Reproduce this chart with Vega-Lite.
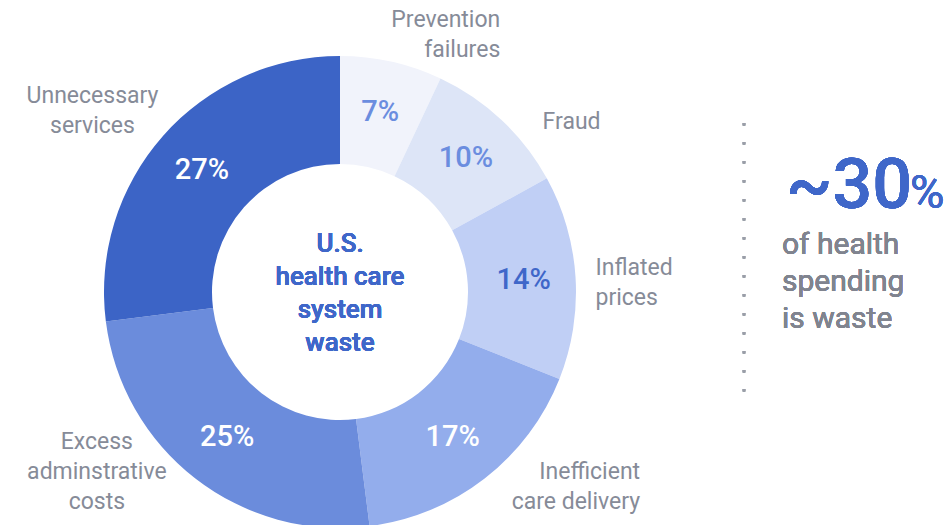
{
  "$schema": "https://vega.github.io/schema/vega-lite/v6.json",
  "width": 680,
  "height": 466,
  "autosize": "none",
  "padding": {"left": 0, "top": 59, "right": 272, "bottom": 0},
  "background": "white",
  "config": {"view": {"stroke": null}, "font": "Roboto"},
  "data": {
    "values": [
      {"category": "Prevention failures", "label": "Prevention\nfailures", "value": 7, "pct": "7%"},
      {"category": "Fraud", "label": "Fraud", "value": 10, "pct": "10%"},
      {"category": "Inflated prices", "label": "Inflated\nprices", "value": 14, "pct": "14%"},
      {"category": "Inefficient care delivery", "label": "Inefficient\ncare delivery", "value": 17, "pct": "17%"},
      {"category": "Excess adminstrative costs", "label": "Excess\nadminstrative\ncosts", "value": 25, "pct": "25%"},
      {"category": "Unnecessary services", "label": "Unnecessary\nservices", "value": 27, "pct": "27%"}
    ]
  },
  "layer": [
    {
      "mark": {"type": "arc", "innerRadius": 128, "outerRadius": 236},
      "encoding": {
        "theta": {"field": "value", "type": "quantitative", "stack": true},
        "order": {"field": "value", "sort": "ascending"},
        "color": {
          "field": "category",
          "type": "nominal",
          "legend": null,
          "scale": {
            "domain": ["Prevention failures", "Fraud", "Inflated prices", "Inefficient care delivery", "Excess adminstrative costs", "Unnecessary services"],
            "range": ["#f1f3fb", "#dde5f7", "#c0cff5", "#93adec", "#6b8cdc", "#3c64c6"]
          }
        }
      }
    },
    {
      "mark": {"type": "text", "radius": 184, "fontSize": 29, "fontWeight": 500, "align": "center", "baseline": "middle"},
      "encoding": {
        "theta": {"field": "value", "type": "quantitative", "stack": true},
        "order": {"field": "value", "sort": "ascending"},
        "text": {"field": "pct"},
        "fill": {
          "condition": [
            {"test": "datum.value >= 17", "value": "#ffffff"},
            {"test": "datum.value == 14", "value": "#3f67c9"}
          ],
          "value": "#6b8ddf"
        }
      }
    },
    {
      "mark": {"type": "text", "radius": 258, "dx": 104, "dy": -20, "fontSize": 23, "align": "right", "baseline": "middle", "lineBreak": "\n", "lineHeight": 30, "fill": "#868b98"},
      "encoding": {
        "theta": {"field": "value", "type": "quantitative", "stack": true},
        "order": {"field": "value", "sort": "ascending"},
        "text": {"condition": {"test": "datum.category == 'Prevention failures'", "field": "label"}, "value": ""}
      }
    },
    {
      "mark": {"type": "text", "radius": 258, "dx": 26, "dy": 18, "fontSize": 23, "align": "left", "baseline": "middle", "lineBreak": "\n", "lineHeight": 30, "fill": "#868b98"},
      "encoding": {
        "theta": {"field": "value", "type": "quantitative", "stack": true},
        "order": {"field": "value", "sort": "ascending"},
        "text": {"condition": {"test": "datum.category == 'Fraud'", "field": "label"}, "value": ""}
      }
    },
    {
      "mark": {"type": "text", "radius": 258, "dx": -2, "dy": -8, "fontSize": 23, "align": "left", "baseline": "middle", "lineBreak": "\n", "lineHeight": 30, "fill": "#868b98"},
      "encoding": {
        "theta": {"field": "value", "type": "quantitative", "stack": true},
        "order": {"field": "value", "sort": "ascending"},
        "text": {"condition": {"test": "datum.category == 'Inflated prices'", "field": "label"}, "value": ""}
      }
    },
    {
      "mark": {"type": "text", "radius": 258, "dx": 142, "dy": -24, "fontSize": 23, "align": "right", "baseline": "middle", "lineBreak": "\n", "lineHeight": 30, "fill": "#868b98"},
      "encoding": {
        "theta": {"field": "value", "type": "quantitative", "stack": true},
        "order": {"field": "value", "sort": "ascending"},
        "text": {"condition": {"test": "datum.category == 'Inefficient care delivery'", "field": "label"}, "value": ""}
      }
    },
    {
      "mark": {"type": "text", "radius": 258, "dx": -85, "dy": -54, "fontSize": 23, "align": "center", "baseline": "middle", "lineBreak": "\n", "lineHeight": 30, "fill": "#868b98"},
      "encoding": {
        "theta": {"field": "value", "type": "quantitative", "stack": true},
        "order": {"field": "value", "sort": "ascending"},
        "text": {"condition": {"test": "datum.category == 'Excess adminstrative costs'", "field": "label"}, "value": ""}
      }
    },
    {
      "mark": {"type": "text", "radius": 258, "dx": -54, "dy": -25, "fontSize": 23, "align": "center", "baseline": "middle", "lineBreak": "\n", "lineHeight": 30, "fill": "#868b98"},
      "encoding": {
        "theta": {"field": "value", "type": "quantitative", "stack": true},
        "order": {"field": "value", "sort": "ascending"},
        "text": {"condition": {"test": "datum.category == 'Unnecessary services'", "field": "label"}, "value": ""}
      }
    },
    {
      "mark": {"type": "text", "dy": -48, "fontSize": 26, "fontWeight": 500, "lineHeight": 33, "align": "center", "baseline": "middle", "fill": "#3f67c9"},
      "encoding": {"text": {"value": ["U.S.", "health care", "system", "waste"]}}
    },
    {
      "mark": {"type": "rule", "stroke": "#9a9ea8", "strokeWidth": 2.5, "strokeDash": [2.5, 16.5]},
      "encoding": {"x": {"value": 744}, "y": {"value": 64}, "y2": {"value": 336}}
    },
    {
      "mark": {"type": "text", "fontSize": 70, "fontWeight": 500, "align": "left", "baseline": "alphabetic", "fill": "#3f67c9"},
      "encoding": {"text": {"value": "~30"}, "x": {"value": 786}, "y": {"value": 149}}
    },
    {
      "mark": {"type": "text", "fontSize": 47, "fontWeight": 400, "align": "left", "baseline": "alphabetic", "fill": "#3f67c9"},
      "encoding": {"text": {"value": "%"}, "x": {"value": 910}, "y": {"value": 149}}
    },
    {
      "mark": {"type": "text", "fontSize": 30, "lineHeight": 37, "align": "left", "baseline": "middle", "fill": "#80848f"},
      "encoding": {"text": {"value": ["of health", "spending", "is waste"]}, "x": {"value": 782}, "y": {"value": 186}}
    }
  ]
}
